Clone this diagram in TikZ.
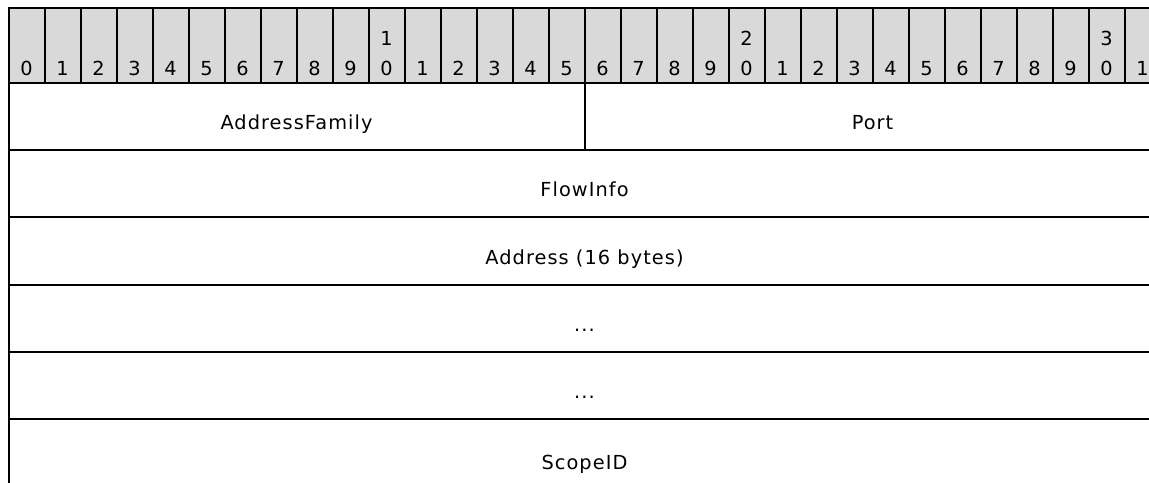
\documentclass[tikz,border=0pt]{standalone}
\usepackage{fontspec}
\setmainfont{DejaVu Sans}[LetterSpace=5.5]
\usepackage{tikz}
\usetikzlibrary{positioning}
\definecolor{hdrgray}{RGB}{217,217,217}

\begin{document}
\begin{tikzpicture}[x=0.75pt, y=-0.75pt, font=\fontsize{14.5}{17}\selectfont]
		\tikzstyle{bitcell}=[rectangle, draw=black, fill=hdrgray, line width=1.5pt, inner sep=0pt, minimum width=27pt, minimum height=56.25pt]
		\tikzstyle{field}=[rectangle, draw=black, line width=1.5pt, inner sep=0pt, minimum height=50.4pt, text height=19.5pt, text depth=0pt]
		\tikzstyle{digit}=[anchor=base, inner sep=0pt]
		\useasboundingbox (0,0) rectangle (1149,482);
		\clip (0,0) rectangle (1149,482);
		
		% header: bit numbers 0..31
		\foreach \i in {0,...,31} {
			\node[bitcell] (b\i) at ({26.5+36*\i},45.5) {};
			\pgfmathtruncatemacro{\ones}{mod(\i,10)}
			\pgfmathtruncatemacro{\tens}{div(\i,10)}
			\node[digit, yshift=6.75pt] (d\i) at (b\i.south) {\ones};
			\ifnum\ones=0 \ifnum\i>0
				\node[digit, yshift=29.25pt] (t\i) at (b\i.south) {\tens};
			\fi\fi
		}
		
		\node[field, minimum width=432pt] (afam) at (296.5,116.6) {AddressFamily};
		\node[field, minimum width=432pt] (port) at (872.5,116.6) {Port};
		\node[field, minimum width=864pt] (flow) at (584.5,183.8) {FlowInfo};
		\node[field, minimum width=864pt] (addr) at (584.5,251) {Address (16 bytes)};
		\node[field, minimum width=864pt] (dots1) at (584.5,318.2) {...};
		\node[field, minimum width=864pt] (dots2) at (584.5,385.4) {...};
		\node[field, minimum width=864pt, minimum height=56.25pt] (scope) at (584.5,456.5) {ScopeID};

	\end{tikzpicture}
\end{document}
